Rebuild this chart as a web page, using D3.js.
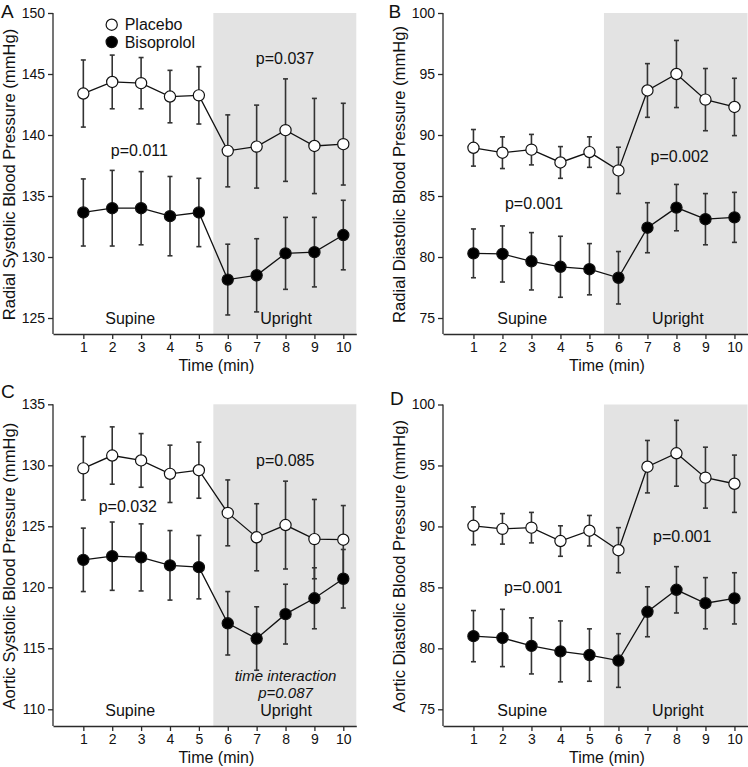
<!DOCTYPE html>
<html>
<head>
<meta charset="utf-8">
<script src="https://cdn.jsdelivr.net/npm/d3@7"></script>
<style>
  html, body { margin: 0; padding: 0; background: #fff; }
  svg { display: block; font-family: "Liberation Sans", Arial, sans-serif; }
</style>
</head>
<body>
<svg id="chart" width="748" height="767"></svg>
<script>
// ---------------- Data ----------------
const time = [1, 2, 3, 4, 5, 6, 7, 8, 9, 10];

const radialSysPlacebo    = [143.4, 144.35, 144.25, 143.15, 143.25, 138.7, 139.05, 140.4, 139.1, 139.25];
const radialSysPlaceboErr = [2.75, 2.2, 2.1, 2.15, 2.35, 2.95, 3.4, 4.2, 3.9, 3.35];
const radialSysBiso       = [133.65, 134.0, 134.0, 133.35, 133.65, 128.15, 128.5, 130.3, 130.4, 131.8];
const radialSysBisoErr    = [2.75, 3.1, 3.0, 3.25, 2.8, 2.9, 3.0, 2.95, 2.85, 2.85];

const radialDiaPlacebo    = [88.95, 88.55, 88.8, 87.75, 88.6, 87.1, 93.65, 95.0, 92.9, 92.3];
const radialDiaPlaceboErr = [1.5, 1.3, 1.25, 1.3, 1.25, 1.9, 2.2, 2.75, 2.55, 2.35];
const radialDiaBiso       = [80.3, 80.25, 79.65, 79.2, 79.0, 78.3, 82.4, 84.05, 83.1, 83.25];
const radialDiaBisoErr    = [2.0, 2.3, 2.35, 2.5, 2.1, 2.15, 2.05, 1.9, 2.1, 2.05];

const aorticSysPlacebo    = [129.75, 130.8, 130.4, 129.3, 129.6, 126.1, 124.1, 125.1, 123.95, 123.9];
const aorticSysPlaceboErr = [2.6, 2.35, 2.2, 2.35, 2.3, 2.7, 2.75, 3.6, 3.25, 2.8];
const aorticSysBiso       = [122.25, 122.55, 122.45, 121.8, 121.65, 117.05, 115.8, 117.8, 119.1, 120.7];
const aorticSysBisoErr    = [2.6, 2.8, 2.75, 2.85, 2.6, 2.6, 2.6, 2.45, 2.5, 2.4];

const aorticDiaPlacebo    = [90.05, 89.8, 89.9, 88.8, 89.65, 88.05, 94.9, 96.0, 94.0, 93.5];
const aorticDiaPlaceboErr = [1.55, 1.25, 1.25, 1.25, 1.25, 1.85, 2.15, 2.7, 2.5, 2.35];
const aorticDiaBiso       = [81.0, 80.85, 80.2, 79.75, 79.45, 79.0, 83.0, 84.8, 83.7, 84.1];
const aorticDiaBisoErr    = [2.1, 2.35, 2.3, 2.5, 2.15, 2.2, 2.05, 1.9, 2.1, 2.1];

const ticksA = [125, 130, 135, 140, 145, 150];
const ticksB = [75, 80, 85, 90, 95, 100];
const ticksC = [110, 115, 120, 125, 130, 135];
const ticksD = [75, 80, 85, 90, 95, 100];

const seriesNames = ["Placebo", "Bisoprolol"];
const phaseLabels = ["Supine", "Upright"];
const xTitle = "Time (min)";

// ---------------- Layout ----------------
const panels = [
  { letter: "A", title: "Radial Systolic Blood Pressure (mmHg)", left: 53, right: 356.3, top: 13, bottom: 334,
    yDom: [123.69, 150], ticks: ticksA, placebo: radialSysPlacebo, pErr: radialSysPlaceboErr, biso: radialSysBiso, bErr: radialSysBisoErr,
    letterPos: [1, 17.5], legend: true, phaseX: [2.62, 8.02],
    texts: [ {t: "p=0.037", x: 7.98, yv: 145.8}, {t: "p=0.011", x: 2.94, yv: 138.3} ] },
  { letter: "B", title: "Radial Diastolic Blood Pressure (mmHg)", left: 443, right: 747.5, top: 13, bottom: 334,
    yDom: [73.69, 100], ticks: ticksB, placebo: radialDiaPlacebo, pErr: radialDiaPlaceboErr, biso: radialDiaBiso, bErr: radialDiaBisoErr,
    letterPos: [388.5, 17.5], phaseX: [2.68, 8.05],
    texts: [ {t: "p=0.002", x: 8.11, yv: 87.8}, {t: "p=0.001", x: 3.09, yv: 83.9} ] },
  { letter: "C", title: "Aortic Systolic Blood Pressure (mmHg)", left: 53, right: 356.3, top: 404.3, bottom: 726,
    yDom: [108.63, 135], ticks: ticksC, placebo: aorticSysPlacebo, pErr: aorticSysPlaceboErr, biso: aorticSysBiso, bErr: aorticSysBisoErr,
    letterPos: [1, 398.3], phaseX: [2.62, 8.02],
    texts: [ {t: "p=0.085", x: 7.99, yv: 129.95}, {t: "p=0.032", x: 2.54, yv: 126.17} ],
    italic: [ {t: "time interaction", x: 8.0, yv: 112.3}, {t: "p=0.087", x: 8.0, yv: 110.93} ] },
  { letter: "D", title: "Aortic Diastolic Blood Pressure (mmHg)", left: 443, right: 747.5, top: 404.5, bottom: 726,
    yDom: [73.63, 100], ticks: ticksD, placebo: aorticDiaPlacebo, pErr: aorticDiaPlaceboErr, biso: aorticDiaBiso, bErr: aorticDiaBisoErr,
    letterPos: [390, 404.5], phaseX: [2.68, 8.05],
    texts: [ {t: "p=0.001", x: 8.2, yv: 88.72}, {t: "p=0.001", x: 3.06, yv: 84.54} ] }
];

const svg = d3.select("#chart");
const axisColor = "#2b2b2b";
const shade = "#e3e3e3";

panels.forEach(p => {
  const g = svg.append("g");
  const x = d3.scaleLinear().domain([-0.05, 10.45]).range([p.left, p.right]);
  const y = d3.scaleLinear().domain(p.yDom).range([p.bottom, p.top]);

  // shaded upright region
  g.append("rect")
    .attr("x", x(5.5)).attr("y", y(p.yDom[1]))
    .attr("width", x(10.45) - x(5.5)).attr("height", y(p.yDom[0]) - y(p.yDom[1]))
    .attr("fill", shade);

  // axes
  const yAxis = d3.axisLeft(y).tickValues(p.ticks).tickSizeOuter(0).tickSizeInner(5).tickPadding(3);
  const ya = g.append("g").attr("transform", `translate(${p.left},0)`).call(yAxis);
  ya.select(".domain").attr("d", `M0,${y(p.ticks[p.ticks.length-1])}V${p.bottom}`);
  const xAxis = d3.axisBottom(x).tickValues(time).tickSizeOuter(0).tickSizeInner(5).tickPadding(3);
  const xa = g.append("g").attr("transform", `translate(0,${p.bottom})`).call(xAxis);
  [ya, xa].forEach(a => {
    a.selectAll("path,line").attr("stroke", axisColor).attr("stroke-width", 1.3);
    a.selectAll("text").attr("fill", "#111").style("font-size", "14px").style("font-family", "Liberation Sans, Arial, sans-serif");
  });

  // axis titles
  g.append("text").attr("x", (x(0) + x(10.45)) / 2 + 11).attr("y", p.bottom + 37)
    .attr("text-anchor", "middle").style("font-size", "16px").attr("fill", "#111").text(xTitle);
  g.append("text")
    .attr("transform", `translate(${p.left - 38},${(p.top + p.bottom) / 2 + 1}) rotate(-90)`)
    .attr("text-anchor", "middle").style("font-size", "16.6px").attr("fill", "#111").text(p.title);

  // panel letter
  g.append("text").attr("x", p.letterPos[0]).attr("y", p.letterPos[1])
    .style("font-size", "19px").attr("fill", "#111").text(p.letter);

  // phase labels
  g.append("text").attr("x", x(p.phaseX[0])).attr("y", p.bottom - 10.5).attr("text-anchor", "middle")
    .style("font-size", "16px").attr("fill", "#111").text(phaseLabels[0]);
  g.append("text").attr("x", x(p.phaseX[1])).attr("y", p.bottom - 10.5).attr("text-anchor", "middle")
    .style("font-size", "16px").attr("fill", "#111").text(phaseLabels[1]);

  // p-value texts
  p.texts.forEach(t => {
    g.append("text").attr("x", x(t.x)).attr("y", y(t.yv)).attr("text-anchor", "middle")
      .style("font-size", "16px").attr("fill", "#111").text(t.t);
  });
  (p.italic || []).forEach(t => {
    g.append("text").attr("x", x(t.x)).attr("y", y(t.yv)).attr("text-anchor", "middle")
      .style("font-size", "15px").style("font-style", "italic").attr("fill", "#111").text(t.t);
  });

  // series
  const series = [
    { vals: p.placebo, err: p.pErr, fill: "#fff" },
    { vals: p.biso, err: p.bErr, fill: "#000" }
  ];
  const capW = 2.5;
  series.forEach(s => {
    const data = time.map((t, i) => ({ t, v: s.vals[i], e: s.err[i] }));
    const eb = g.append("g").attr("stroke", "#333").attr("stroke-width", 1.6);
    data.forEach(d => {
      eb.append("line").attr("x1", x(d.t)).attr("x2", x(d.t)).attr("y1", y(d.v - d.e)).attr("y2", y(d.v + d.e));
      eb.append("line").attr("x1", x(d.t) - capW).attr("x2", x(d.t) + capW).attr("y1", y(d.v + d.e)).attr("y2", y(d.v + d.e));
      eb.append("line").attr("x1", x(d.t) - capW).attr("x2", x(d.t) + capW).attr("y1", y(d.v - d.e)).attr("y2", y(d.v - d.e));
    });
  });
  series.forEach(s => {
    const data = time.map((t, i) => ({ t, v: s.vals[i] }));
    g.append("path").datum(data)
      .attr("d", d3.line().x(d => x(d.t)).y(d => y(d.v)))
      .attr("fill", "none").attr("stroke", "#111").attr("stroke-width", 1.3);
    g.selectAll(null).data(data).enter().append("circle")
      .attr("cx", d => x(d.t)).attr("cy", d => y(d.v)).attr("r", 5.6)
      .attr("fill", s.fill).attr("stroke", "#111").attr("stroke-width", 1.2);
  });

  // legend (panel A)
  if (p.legend) {
    const lx = 111.7;
    [[24.7, "#fff"], [42, "#000"]].forEach((l, i) => {
      g.append("circle").attr("cx", lx).attr("cy", l[0]).attr("r", 5.6)
        .attr("fill", l[1]).attr("stroke", "#111").attr("stroke-width", 1.2);
      g.append("text").attr("x", lx + 13).attr("y", l[0] + 5.7)
        .style("font-size", "16px").attr("fill", "#111").text(seriesNames[i]);
    });
  }
});
</script>
</body>
</html>
